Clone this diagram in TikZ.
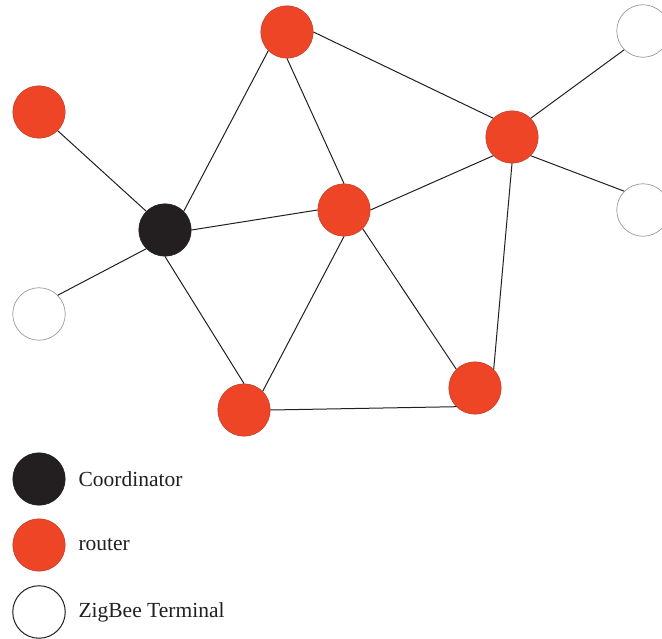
\documentclass[tikz,border=0pt]{standalone}
\usepackage{fontspec}
\setmainfont{Liberation Serif}
\definecolor{routerred}{HTML}{EF4527}
\definecolor{coordblack}{HTML}{231F20}
\definecolor{termgray}{HTML}{9A9A9A}
\begin{document}
\begin{tikzpicture}[x=1pt,y=-1pt,
  dev/.style={circle,minimum size=52.5pt,inner sep=0pt},
  coordinatornode/.style={dev,fill=coordblack,draw=coordblack,line width=0.5pt},
  routernode/.style={dev,fill=routerred,draw=routerred!75!black,line width=0.4pt},
  terminalnode/.style={dev,fill=white,draw=termgray,line width=0.7pt},
  legendterminal/.style={dev,fill=white,draw=coordblack,line width=1pt},
  link/.style={draw=coordblack,line width=1pt},
  legendtext/.style={anchor=west,font=\fontsize{21.5}{26}\selectfont,text=coordblack}]
\useasboundingbox (0,0) rectangle (662,639);
% network devices
\node[routernode] (rtop) at (287,32) {};
\node[routernode] (rleft) at (39,112) {};
\node[routernode] (rright) at (512,137) {};
\node[coordinatornode] (coord) at (165,230) {};
\node[routernode] (rcenter) at (344,210) {};
\node[routernode] (rbottom) at (244,410) {};
\node[routernode] (rbr) at (475,388) {};
\node[terminalnode] (ttr) at (643,31) {};
\node[terminalnode] (tmr) at (643,210) {};
\node[terminalnode] (tleft) at (39,314) {};
% links, each attached at a compass point of its two devices
\draw[link] (rleft.south east) -- (coord.north west);
\draw[link] (coord.south west) -- (tleft.north east);
\draw[link] (coord.north east) -- (rtop.south west);
\draw[link] (coord.east) -- (rcenter.west);
\draw[link] (coord.south) -- (rbottom.north);
\draw[link] (rtop.south) -- (rcenter.north);
\draw[link] (rtop.east) -- (rright.north west);
\draw[link] (rcenter.east) -- (rright.south west);
\draw[link] (rcenter.south) -- (rbottom.north east);
\draw[link] (rcenter.south east) -- (rbr.north west);
\draw[link] (rright.north east) -- (ttr.south west);
\draw[link] (rright.south east) -- (tmr.north west);
\draw[link] (rright.south) -- (rbr.north east);
\draw[link] (rbottom.east) -- (rbr.south west);
% legend
\node[coordinatornode] (lc) at (39,479) {};
\node[routernode] (lr) at (39,545) {};
\node[legendterminal] (lt) at (39,612) {};
\node[legendtext] (lct) at (75,479) {Coordinator};
\node[legendtext] (lrt) at (75,545) {router};
\node[legendtext] (ltt) at (75,612) {ZigBee Terminal};
\end{tikzpicture}
\end{document}
